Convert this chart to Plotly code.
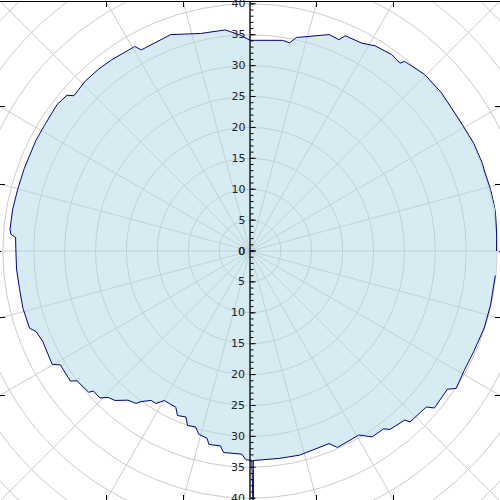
import math
import plotly.graph_objects as go

# ---- data (angle in degrees, counter-clockwise from east) ----
theta_deg = [0, 3.5, 9.6, 14.3, 19.1, 20.7, 25.6, 30.0, 35.6, 39.7, 45.3, 50.8, 51.4, 54.2,
             58.6, 61.7, 66.1, 67.2, 69.9, 77.0, 77.7, 79.2, 81.2, 90.0, 92.6, 96.4, 102.8,
             110.1, 118.4, 119.4, 121.3, 125.9, 129.8, 134.1, 138.6, 139.6, 142.8, 148.1,
             152.7, 159.9, 165.2, 170.1, 174.8, 176.0, 176.7, 179.5, 184.4, 189.3, 194.2,
             199.3, 200.6, 203.5, 209.8, 211.0, 215.9, 216.9, 221.2, 221.8, 224.4, 225.9,
             227.9, 230.7, 233.2, 234.1, 236.5, 238.3, 240.2, 244.6, 246.2, 248.9, 250.3,
             252.8, 254.4, 257.1, 258.0, 261.4, 262.5, 267.7, 268.9, 270.5, 270.75, 270.9,
             271.4, 278.1, 283.6, 292.3, 294.0, 300.6, 303.3, 306.9, 308.1, 312.5, 313.1,
             318.5, 319.6, 325.0, 326.3, 330.8, 335.9, 341.8, 347.3, 354.3]
radius = [39.9, 40.0, 40.3, 40.2, 40.1, 40.2, 40.2, 40.0, 40.0, 40.2, 40.2, 39.6, 38.9, 39.2,
          38.9, 38.2, 38.1, 37.1, 37.3, 35.5, 35.4, 34.3, 34.5, 34.1, 35.0, 36.0, 36.1,
          37.3, 37.0, 38.0, 38.0, 38.2, 38.3, 38.3, 38.0, 38.9, 39.2, 39.0,
          39.0, 38.9, 38.9, 39.0, 39.0, 38.8, 38.0, 37.9, 37.9, 37.8, 37.9,
          37.8, 37.0, 36.6, 36.9, 35.8, 35.9, 35.0, 34.7, 34.0, 34.0, 33.0,
          32.6, 31.2, 30.8, 30.1, 29.0, 29.0, 27.9, 28.0, 29.1, 28.8, 30.0,
          29.8, 30.8, 31.1, 32.0, 31.9, 32.9, 32.9, 33.8, 33.9, 45.0, 33.9,
          33.9, 33.9, 34.0, 33.7, 34.8, 34.6, 36.0, 36.0, 36.7, 37.1, 37.9,
          38.1, 39.2, 39.0, 40.1, 39.7, 39.7, 39.9, 39.9, 39.9]

radial_major = list(range(0, 41, 5))
radial_minor = list(range(0, 41, 1))
angular_step = 15
outer_rings = [45, 50, 55]
R_MAX = 40.3

W, H, TOP = 500, 500, 2
GRID = "#cccccc"
FONT = dict(family="DejaVu Sans", size=11, color="#222222")

fig = go.Figure()
fig.add_trace(go.Scatterpolar(
    r=radius, theta=theta_deg, mode="lines", fill="toself",
    fillcolor="rgba(173,216,230,0.5)", line=dict(color="#00008b", width=1),
    subplot="polar", showlegend=False, hoverinfo="skip"))
for sp in ["polar2", "polar3", "polar4"]:
    fig.add_trace(go.Scatterpolar(r=[], theta=[], mode="lines", subplot=sp,
                                  showlegend=False, hoverinfo="skip"))
fig.add_trace(go.Scatter(x=[], y=[], mode="lines", showlegend=False, hoverinfo="skip"))


def radial(angle, vals, ticklen, labels, side, line, tickangle, grid=False):
    return dict(range=[0, R_MAX], angle=angle, tickmode="array", tickvals=vals,
                ticks="inside", ticklen=ticklen, tickwidth=1, tickcolor="black",
                showticklabels=labels, side=side, showline=line, linecolor="black",
                linewidth=1.3, showgrid=grid, gridcolor=GRID, gridwidth=1,
                tickfont=FONT, tickangle=tickangle, layer="above traces")


hidden_ang = dict(visible=False)
dom = dict(x=[0, 1], y=[0, 1])
fig.update_layout(
    width=W, height=H, margin=dict(l=0, r=0, t=TOP, b=0),
    paper_bgcolor="white", plot_bgcolor="white",
    polar=dict(domain=dom, bgcolor="white",
               radialaxis=radial(90, radial_major, 5, True, "counterclockwise", True, 90,
                                 grid=True),
               angularaxis=dict(tickmode="linear", dtick=angular_step, showticklabels=False,
                                ticks="", showline=False, gridcolor=GRID, gridwidth=1)),
    polar2=dict(domain=dom, bgcolor="rgba(0,0,0,0)",
                radialaxis=radial(270, radial_major, 5, True, "clockwise", True, -90),
                angularaxis=hidden_ang),
    polar3=dict(domain=dom, bgcolor="rgba(0,0,0,0)",
                radialaxis=radial(90, radial_minor, 3, False, "counterclockwise", False, 90),
                angularaxis=hidden_ang),
    polar4=dict(domain=dom, bgcolor="rgba(0,0,0,0)",
                radialaxis=radial(270, radial_minor, 3, False, "clockwise", False, -90),
                angularaxis=hidden_ang),
)

# cartesian frame sharing the polar scale (px per unit)
plot_h = H - TOP
scale = (min(W, plot_h) / 2) / R_MAX
x_half = (W / 2) / scale
y_half = (plot_h / 2) / scale
edge_angles = (-30, -15, 0, 15, 30)
common = dict(domain=[0, 1], showgrid=False, zeroline=False, showticklabels=False,
              ticks="inside", ticklen=5, tickcolor="black", tickmode="array",
              showline=True, linecolor="black", linewidth=1, mirror="ticks",
              fixedrange=True)
fig.update_xaxes(range=[-x_half, x_half],
                 tickvals=[y_half * math.tan(math.radians(a)) for a in edge_angles], **common)
fig.update_yaxes(range=[-y_half, y_half],
                 tickvals=[x_half * math.tan(math.radians(a)) for a in edge_angles], **common)

# continuation of the polar grid into the corners (outside the polar circle)
shapes = []
for rr in outer_rings:
    shapes.append(dict(type="circle", xref="x", yref="y", x0=-rr, y0=-rr, x1=rr, y1=rr,
                       line=dict(color=GRID, width=1), layer="below"))
for a in range(0, 360, angular_step):
    c, s = math.cos(math.radians(a)), math.sin(math.radians(a))
    shapes.append(dict(type="line", xref="x", yref="y", x0=R_MAX * c, y0=R_MAX * s,
                       x1=60 * c, y1=60 * s, line=dict(color=GRID, width=1), layer="below"))
fig.update_layout(shapes=shapes)

fig.write_html("out.html", config={"displayModeBar": False},
               post_script="document.body.style.margin='0';")
